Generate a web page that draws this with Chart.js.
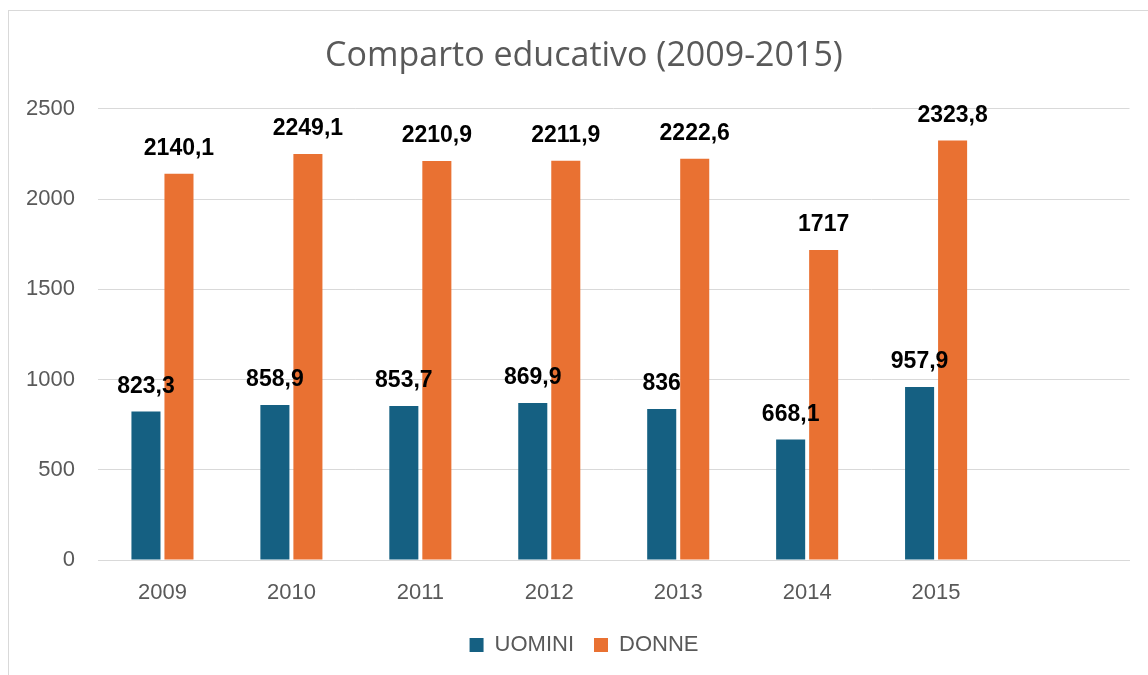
<!DOCTYPE html>
<html>
<head>
<meta charset="utf-8">
<script src="https://cdn.jsdelivr.net/npm/chart.js@4/dist/chart.umd.min.js"></script>
<style>
  html, body { margin: 0; padding: 0; background: #fff; overflow: hidden; }
  #box {
    position: absolute; left: 8px; top: 10px;
    width: 1150px; height: 675px;
    border: 1.5px solid #d9d9d9; background: #fff;
  }
</style>
</head>
<body>
<div id="box"><canvas id="comparto"></canvas></div>
<script>
// anni (l'ultima categoria è vuota come nel grafico originale)
const anni = ['2009', '2010', '2011', '2012', '2013', '2014', '2015', ''];
const uomini = [823.3, 858.9, 853.7, 869.9, 836, 668.1, 957.9, null];
const donne = [2140.1, 2249.1, 2210.9, 2211.9, 2222.6, 1717, 2323.8, null];
const tickValori = [0, 500, 1000, 1500, 2000, 2500];

const grigio = '#595959';
const fonte = '"Liberation Sans", Arial, sans-serif';

// etichette dei valori sopra le barre
const etichette = {
    id: 'etichette',
    afterDatasetsDraw(chart) {
        const ctx = chart.ctx;
        ctx.save();
        ctx.font = 'bold 23px ' + fonte;
        ctx.fillStyle = '#000';
        ctx.textAlign = 'center';
        ctx.textBaseline = 'middle';
        chart.data.datasets.forEach((ds, i) => {
            chart.getDatasetMeta(i).data.forEach((bar, j) => {
                const v = ds.data[j];
                if (v == null) return;
                ctx.fillText(String(v).replace('.', ','), bar.x, bar.y - 25);
            });
        });
        ctx.restore();
    }
};

new Chart(document.getElementById('comparto').getContext('2d'), {
    type: 'bar',
    data: {
        labels: anni,
        datasets: [
            { label: 'UOMINI', data: uomini, backgroundColor: '#156082' },
            { label: 'DONNE', data: donne, backgroundColor: '#e97132' }
        ]
    },
    options: {
        responsive: true,
        maintainAspectRatio: false,
        animation: false,
        datasets: {
            bar: { categoryPercentage: 0.512, barPercentage: 0.88 }
        },
        layout: { padding: { left: 0, right: 0, top: 0, bottom: 20 } },
        scales: {
            x: {
                grid: { display: false },
                border: { color: '#d9d9d9', width: 1 },
                afterFit(axis) { axis.height = 54; },
                ticks: { color: grigio, padding: 12, font: { family: fonte, size: 22 } }
            },
            y: {
                min: 0, max: 2500,
                afterBuildTicks(axis) { axis.ticks = tickValori.map(v => ({ value: v })); },
                afterFit(axis) { axis.width = 89; },
                grid: { color: '#d9d9d9', drawTicks: false },
                border: { display: false },
                ticks: {
                    color: grigio, padding: 23,
                    font: { family: fonte, size: 22 },
                    callback: v => String(v)
                }
            },
            // margine vuoto a destra dell'area del grafico
            destra: {
                position: 'right',
                afterFit(axis) { axis.width = 29.5; },
                grid: { display: false, drawTicks: false },
                border: { display: false },
                ticks: { display: false }
            }
        },
        plugins: {
            title: {
                display: true,
                text: 'Comparto educativo (2009-2015)',
                color: grigio,
                font: { family: '"Open Sans", ' + fonte, size: 34, weight: 'normal' },
                padding: { top: 25, bottom: 32 }
            },
            legend: {
                position: 'bottom',
                labels: {
                    color: grigio,
                    boxWidth: 14, boxHeight: 14, padding: 20,
                    font: { family: fonte, size: 22 }
                }
            },
            tooltip: { enabled: false }
        }
    },
    plugins: [etichette]
});
</script>
</body>
</html>
